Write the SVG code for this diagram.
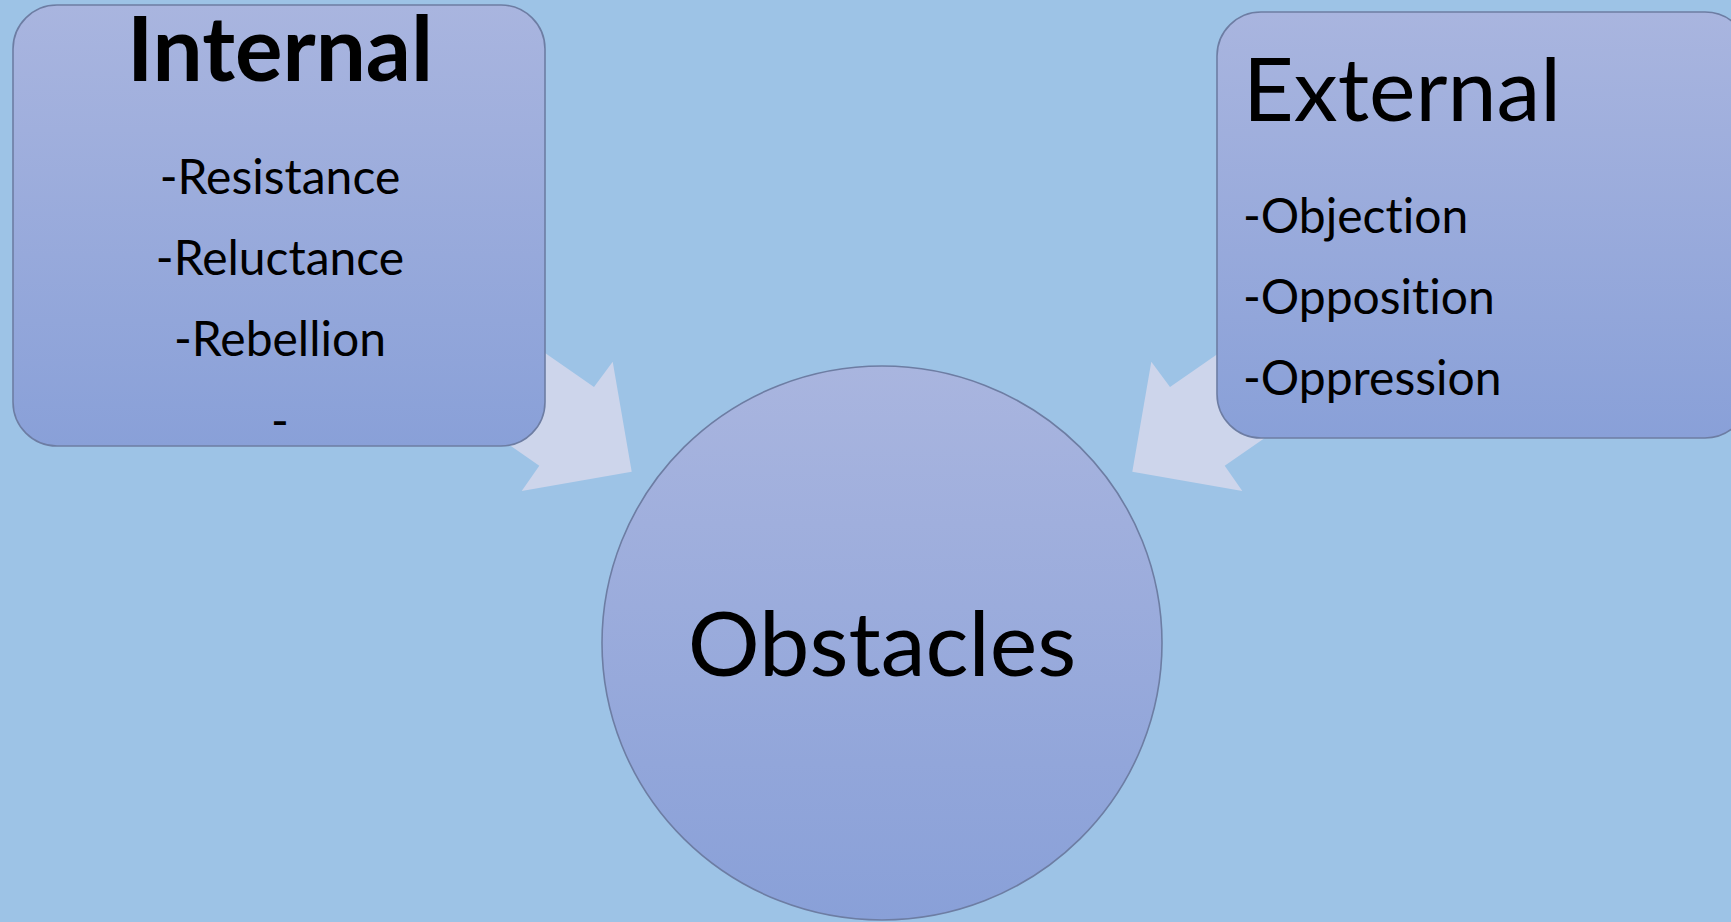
<svg xmlns="http://www.w3.org/2000/svg" width="1731" height="922" viewBox="0 0 1731 922">
<defs>
<linearGradient id="g" x1="0" y1="0" x2="0" y2="1">
<stop offset="0" stop-color="#a9b5df"/>
<stop offset="1" stop-color="#89a0d8"/>
</linearGradient>
<style>
.node{fill:url(#g);stroke:#6d7da3;stroke-width:1.6}
.arrow{fill:#cdd5eb;stroke:none}
.t{font-family:Lato,"Open Sans","Liberation Sans",sans-serif;fill:#000;font-variant-ligatures:none;font-feature-settings:"liga" 0}
.h{font-size:88px}
.i{font-size:48px}
</style>
</defs>
<rect width="1731" height="922" fill="#9dc3e6"/>
<g id="connectors">
<polygon class="arrow" points="463,296 594,387 612.7,361.7 631.7,471.7 521.7,491 539.3,465.7 408,375"/>
<polygon class="arrow" points="1301,296 1170,387 1151.3,361.7 1132.3,471.7 1242.3,491 1224.7,465.7 1356,375"/>
</g>
<g id="internal">
<rect class="node" x="13" y="5" width="532" height="441" rx="44" ry="44"/>
<text class="t" x="280" y="81" text-anchor="middle" font-weight="bold" font-size="89">Internal</text>
<text class="t i" x="280" y="194" text-anchor="middle">-Resistance</text>
<text class="t i" x="280" y="275" text-anchor="middle">-Reluctance</text>
<text class="t i" x="280" y="356" text-anchor="middle">-Rebellion</text>
<text class="t i" x="280" y="438" text-anchor="middle">-</text>
</g>
<g id="external">
<rect class="node" x="1217" y="12" width="532" height="426" rx="44" ry="44"/>
<text class="t h" x="1243" y="121">External</text>
<text class="t i" x="1243" y="233">-Objection</text>
<text class="t i" x="1243" y="314">-Opposition</text>
<text class="t i" x="1243" y="395">-Oppression</text>
</g>
<g id="obstacles">
<ellipse class="node" cx="882" cy="643" rx="280" ry="277"/>
<text class="t" x="882" y="676" text-anchor="middle" font-size="90">Obstacles</text>
</g>
</svg>
